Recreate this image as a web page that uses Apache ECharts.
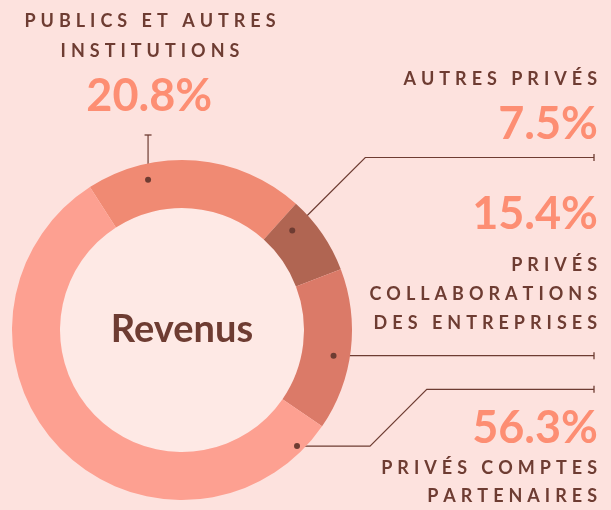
<!DOCTYPE html>
<html>
<head>
<meta charset="utf-8">
<script src="https://cdn.jsdelivr.net/npm/echarts@6/dist/echarts.min.js"></script>
<style>
  html, body { margin: 0; padding: 0; background: #fde2de; }
  #chart { width: 611px; height: 510px; }
</style>
</head>
<body>
<div id="chart"></div>
<script>
// Revenue breakdown, in percent
const categories = [
  'Publics et autres institutions',
  'Autres privés',
  'Privés collaborations des entreprises',
  'Privés comptes partenaires'
];
const shares = [20.8, 7.5, 15.4, 56.3];
const titleLines = [
  ['PUBLICS ET AUTRES', 'INSTITUTIONS'],
  ['AUTRES PRIVÉS'],
  ['PRIVÉS', 'COLLABORATIONS', 'DES ENTREPRISES'],
  ['PRIVÉS COMPTES', 'PARTENAIRES']
];
const centerTitle = 'Revenus';

// ---- styling / layout ----
const sliceColors = ['#f08a73', '#b06552', '#db7a68', '#fda091'];
const INK = '#6e3c32';
const ACCENT = '#fd8e73';
const FONT = 'Lato';
const CX = 182, CY = 330, R_IN = 122, R_OUT = 170;
const START_CLOCK = -32.8;     // where the first slice begins, degrees clockwise from 12 o'clock
const LINE_END = 594;           // right end of the callout rules
const HALF_SPACING = 2.5;       // half of the letter spacing of the captions

// callout placement for each slice: label box, line route, anchor inside the ring
const callouts = [
  { pctFirst: false, align: 'center', x: 150,   y: 6,     tLH: 30, pLH: 61, along: 0.268, radius: 154,   route: 'up',     levelY: 135 },
  { pctFirst: false, align: 'right',  x: 599.5, y: 63.8,  tLH: 30, pLH: 61, along: 0.217, radius: 148.5, route: 'diag',   levelY: 157.5 },
  { pctFirst: true,  align: 'right',  x: 599.5, y: 178.4, tLH: 29, pLH: 72, along: 0.551, radius: 153.7, route: 'flat' },
  { pctFirst: true,  align: 'right',  x: 599.5, y: 402.8, tLH: 28, pLH: 51, along: 0.053, radius: 163.4, route: 'dogleg', levelY: 389.3, runX: 370 }
];

const total = shares.reduce((a, b) => a + b, 0);

// point inside the ring of slice i, at a fraction of its sweep
function anchorOf(i) {
  const before = shares.slice(0, i).reduce((a, b) => a + b, 0);
  const c = callouts[i];
  const deg = START_CLOCK + 360 * (before + c.along * shares[i]) / total;
  const rad = deg * Math.PI / 180;
  return [CX + c.radius * Math.sin(rad), CY - c.radius * Math.cos(rad)];
}

function routeOf(i) {
  const c = callouts[i];
  const a = anchorOf(i);
  if (c.route === 'up') return [a, [a[0], c.levelY]];
  if (c.route === 'diag') return [a, [a[0] + (a[1] - c.levelY), c.levelY], [LINE_END, c.levelY]];
  if (c.route === 'flat') return [a, [LINE_END, a[1]]];
  return [a, [c.runX, a[1]], [c.runX + (a[1] - c.levelY), c.levelY], [LINE_END, c.levelY]];
}

// letter-spaced caption: one rich token per character
function spaced(text) {
  return text.split('').map(ch => '{t|' + ch + '}').join('');
}

function labelFor(i) {
  const c = callouts[i];
  const pct = '{p|' + shares[i].toFixed(1) + '%}';
  const caption = titleLines[i].map(spaced);
  const lines = c.pctFirst ? [pct].concat(caption) : caption.concat([pct]);
  return {
    formatter: lines.join('\n'),
    rich: {
      t: {
        fontFamily: FONT, fontSize: 18, fontWeight: 'bold', color: INK,
        lineHeight: c.tLH, padding: [0, HALF_SPACING, 0, HALF_SPACING]
      },
      p: {
        fontFamily: FONT, fontSize: 45, fontWeight: 'bold', color: ACCENT,
        lineHeight: c.pLH, padding: [0, 1.5, 0, 0]
      }
    }
  };
}

const ringData = categories.map((name, i) => ({
  name: name,
  value: shares[i],
  itemStyle: { color: sliceColors[i] },
  label: labelFor(i)
}));

// dots at the ring end and small caps at the far end of each rule
const markers = [];
callouts.forEach((c, i) => {
  const pts = routeOf(i);
  const a = pts[0], e = pts[pts.length - 1];
  markers.push({ type: 'circle', shape: { cx: a[0], cy: a[1], r: 3 }, style: { fill: INK }, z: 100 });
  const cap = c.route === 'up'
    ? { x1: e[0] - 3.5, y1: e[1], x2: e[0] + 3.5, y2: e[1] }
    : { x1: e[0], y1: e[1] - 3.5, x2: e[0], y2: e[1] + 3.5 };
  markers.push({ type: 'line', shape: cap, style: { stroke: INK, lineWidth: 1.3 }, z: 100 });
});

const chart = echarts.init(document.getElementById('chart'), null, { renderer: 'canvas' });
chart.setOption({
  backgroundColor: '#fde2de',
  animation: false,
  graphic: markers,
  series: [
    {
      type: 'pie',
      silent: true,
      center: [CX, CY],
      radius: [0, R_IN],
      data: [{ name: centerTitle, value: 1, itemStyle: { color: '#fee9e5' } }],
      label: {
        show: true, position: 'center', formatter: '{b}',
        fontFamily: FONT, fontSize: 38, fontWeight: 'bold', color: INK
      },
      labelLine: { show: false }
    },
    {
      type: 'pie',
      silent: true,
      center: [CX, CY],
      radius: [R_IN, R_OUT],
      startAngle: 90 - START_CLOCK,
      clockwise: true,
      avoidLabelOverlap: false,
      data: ringData,
      label: { show: true, position: 'outside' },
      labelLine: { show: true, length: 10, length2: 10, lineStyle: { color: INK, width: 1.2 } },
      labelLayout: function (params) {
        const c = callouts[params.dataIndex];
        return {
          x: c.x, y: c.y,
          align: c.align, verticalAlign: 'top',
          labelLinePoints: routeOf(params.dataIndex)
        };
      }
    }
  ]
});
</script>
</body>
</html>
